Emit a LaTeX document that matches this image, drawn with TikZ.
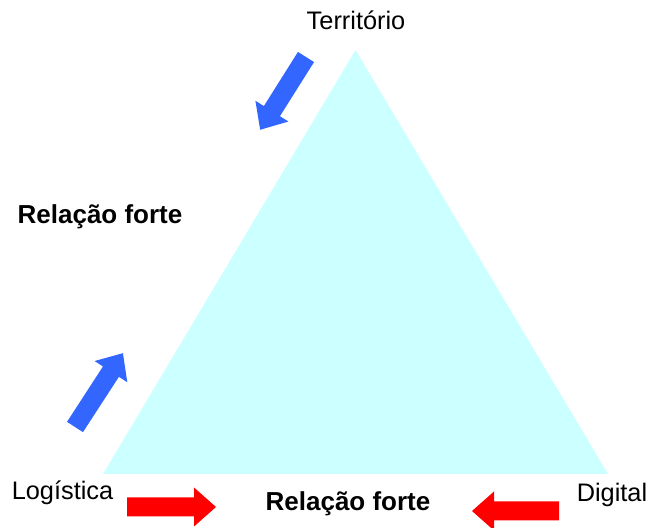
\documentclass[tikz,border=0pt]{standalone}
\usepackage{fontspec}
\setmainfont{Liberation Sans}
\usepackage{tikz}
\usetikzlibrary{positioning}
\definecolor{trifill}{HTML}{CCFFFF}
\definecolor{arrblue}{HTML}{3366FF}
\definecolor{arrred}{HTML}{FF0000}
\tikzset{
  label/.style={font=\fontsize{19}{22}\selectfont, inner sep=0pt, anchor=base},
  strong/.style={label, font=\fontsize{19.5}{22}\selectfont\bfseries},
  bigarrow/.pic={
    \fill (0,-9.5) -- (#1-22,-9.5) -- (#1-22,-19.5) -- (#1,0)
      -- (#1-22,19.5) -- (#1-22,9.5) -- (0,9.5) -- cycle;
  }
}

\begin{document}
\begin{tikzpicture}[x=0.75pt, y=0.75pt]
\useasboundingbox (0,0) rectangle (651,528);

% Triangle
\coordinate (T) at (355.5,478);
\coordinate (L) at (103,54);
\coordinate (D) at (608,54);
\fill[trifill] (T) -- (L) -- (D) -- cycle;

% Corner labels
\node[label] (terr) at (356,498) {Território};
\node[label] (logi) at (62.5,28) {Logística};
\node[label] (digi) at (612,26) {Digital};

% Strong relations
\node[strong] (rel1) at (100,304) {Relação forte};
\node[strong] (rel2) at (348,17) {Relação forte};

% Blue arrows
\pic[arrblue, rotate=237.8] at (306,471) {bigarrow=86};
\pic[arrblue, rotate=57] at (75,101) {bigarrow=88};

% Red arrows
\pic[arrred] at (127,21) {bigarrow=89};
\pic[arrred, rotate=180] at (559,17) {bigarrow=87};
\end{tikzpicture}
\end{document}
